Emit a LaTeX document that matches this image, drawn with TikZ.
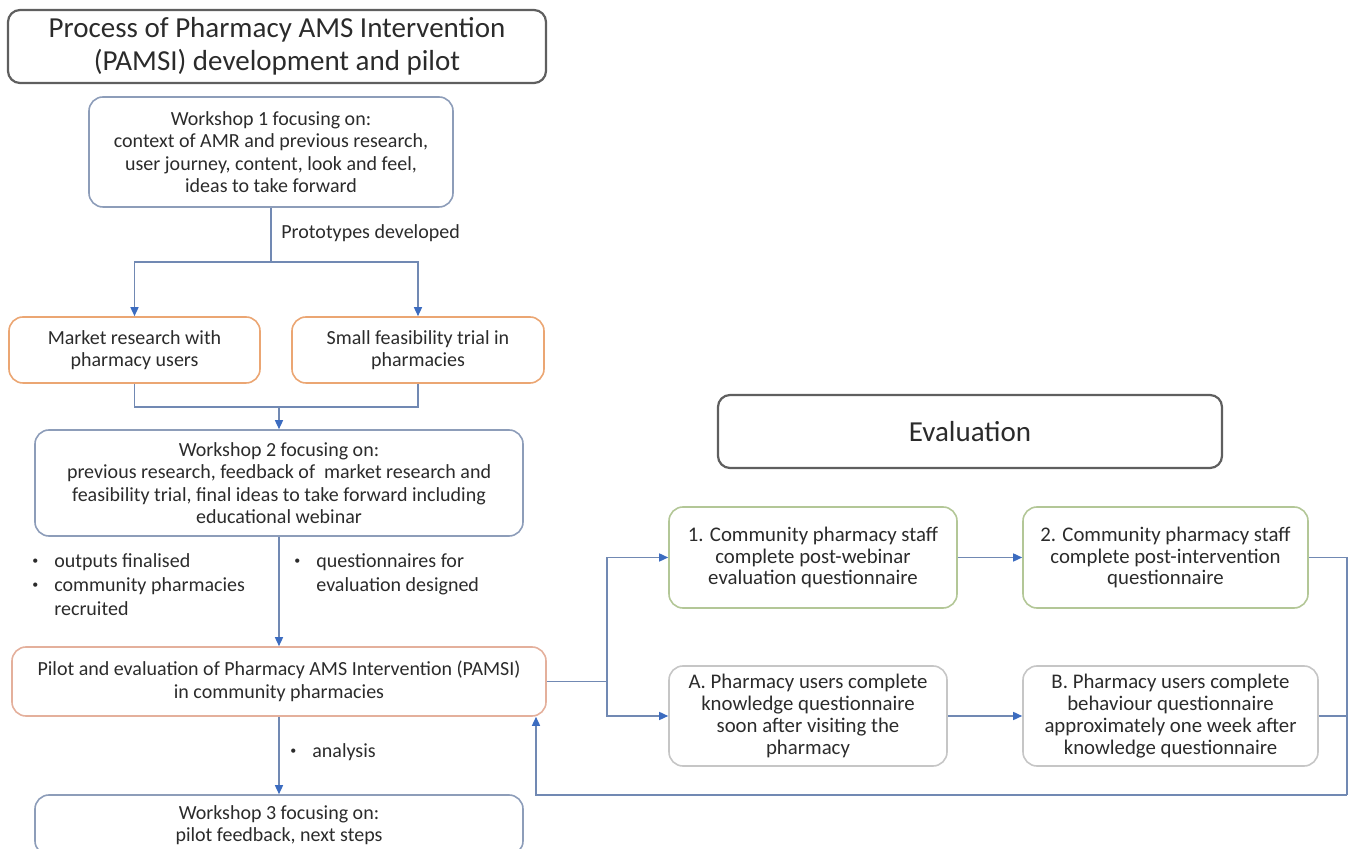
\documentclass[tikz,border=0pt]{standalone}
\usepackage{fontspec}
\setmainfont{Carlito}
\usepackage{tikz}
\usetikzlibrary{arrows.meta}

\definecolor{framegray}{HTML}{5F5F5F}
\definecolor{wsblue}{HTML}{8D9DB9}
\definecolor{trialorange}{HTML}{EBA673}
\definecolor{pilotred}{HTML}{E4B09C}
\definecolor{staffgreen}{HTML}{B3C797}
\definecolor{usergray}{HTML}{C6C6C6}
\definecolor{linkblue}{HTML}{7189B3}
\definecolor{tipblue}{HTML}{3C6CC0}
\definecolor{textgray}{HTML}{2B2B2B}

\newcommand{\smalldot}{\raisebox{1.6pt}{\fontsize{6}{6}\selectfont\textbullet}}

\begin{document}
\begin{tikzpicture}[x=0.5pt, y=-0.5pt, text=textgray]
    \tikzstyle{headbox} = [rectangle, draw=framegray, line width=1.1pt, rounded corners=6pt, align=center, inner sep=0pt, font=\fontsize{14.5}{16.5}\selectfont]
    \tikzstyle{workshop} = [rectangle, draw=wsblue, line width=0.8pt, rounded corners=7pt, align=center, inner sep=0pt, font=\fontsize{10}{11.25}\selectfont]
    \tikzstyle{trialbox} = [workshop, draw=trialorange]
    \tikzstyle{pilotbox} = [workshop, draw=pilotred]
    \tikzstyle{staffbox} = [workshop, draw=staffgreen, font=\fontsize{10.4}{10.9}\selectfont]
    \tikzstyle{userbox} = [staffbox, draw=usergray]
    \tikzstyle{link} = [draw=linkblue, line width=0.75pt]
    \tikzstyle{flow} = [link, -{Triangle[length=4.5pt, width=4pt, color=tipblue]}]
    \tikzstyle{note} = [anchor=west, align=left, inner sep=0pt, font=\fontsize{10}{12}\selectfont]

    \useasboundingbox (0,0) rectangle (1350,849);
    \clip (0,0) rectangle (1350,849);

    % Headings
    \node[headbox, minimum width=269pt, minimum height=36.5pt] (title) at (277,46.5) {Process of Pharmacy AMS Intervention\\(PAMSI) development and pilot};
    \node[headbox, minimum width=252pt, minimum height=36.5pt] (evaltitle) at (970,431.5) {Evaluation};

    % Development steps
    \node[workshop, minimum width=182pt, minimum height=55pt] (ws1) at (271,152) {Workshop 1 focusing on:\\context of AMR and previous research,\\user journey, content, look and feel,\\ideas to take forward};
    \node[trialbox, minimum width=125.5pt, minimum height=33pt] (market) at (134.5,350) {Market research with\\pharmacy users};
    \node[trialbox, minimum width=126pt, minimum height=33pt] (trial) at (418,350) {Small feasibility trial in\\pharmacies};
    \node[workshop, minimum width=244pt, minimum height=53pt] (ws2) at (279,483) {Workshop 2 focusing on:\\previous research, feedback of~ market research and\\feasibility trial, final ideas to take forward including\\educational webinar};
    \node[pilotbox, minimum width=267pt, minimum height=34.5pt] (pilot) at (279,681.5) {Pilot and evaluation of Pharmacy AMS Intervention (PAMSI)\\in community pharmacies};
    \node[workshop, minimum width=244pt, minimum height=30pt] (ws3) at (279,825) {Workshop 3 focusing on:\\pilot feedback, next steps};

    % Evaluation steps
    \node[staffbox, minimum width=144pt, minimum height=50.5pt] (staff1) at (813,557.5) {1. Community pharmacy staff\\complete post-webinar\\evaluation questionnaire};
    \node[staffbox, minimum width=142.5pt, minimum height=50.5pt] (staff2) at (1165.5,557.5) {2. Community pharmacy staff\\complete post-intervention\\questionnaire};
    \node[userbox, minimum width=139pt, minimum height=50pt] (userA) at (808,716) {A. Pharmacy users complete\\knowledge questionnaire\\soon after visiting the\\pharmacy};
    \node[userbox, minimum width=147.5pt, minimum height=50pt] (userB) at (1170.5,716) {B. Pharmacy users complete\\behaviour questionnaire\\approximately one week after\\knowledge questionnaire};

    % Labels
    \node[note] (proto) at (281,233) {Prototypes developed};
    \node[note] (outputs) at (32,587) {\begin{tabular}{@{}l@{\hspace{8pt}}l@{}}\smalldot & outputs finalised\\ \smalldot & community pharmacies\\ & recruited\end{tabular}};
    \node[note] (quest) at (294,574.5) {\begin{tabular}{@{}l@{\hspace{8pt}}l@{}}\smalldot & questionnaires for\\ & evaluation designed\end{tabular}};
    \node[note] (analysis) at (290,752) {\smalldot\hspace{8pt}analysis};

    % Connectors
    \coordinate (fork) at (271,262);
    \coordinate (merge) at (279,407);
    \coordinate (split) at (607,681.5);
    \coordinate (loop) at (1347,795);
    \coordinate (back) at (536,795);

    \draw[link] (ws1) -- (fork);
    \draw[flow] (fork) -| (market);
    \draw[flow] (fork) -| (trial);
    \draw[link] (market) |- (merge);
    \draw[link] (trial) |- (merge);
    \draw[flow] (merge) -- (ws2);
    \draw[flow] (ws2) -- (pilot);
    \draw[flow] (pilot) -- (ws3);

    \draw[link] (pilot) -- (split);
    \draw[flow] (split) |- (staff1);
    \draw[flow] (split) |- (userA);
    \draw[flow] (staff1) -- (staff2);
    \draw[flow] (userA) -- (userB);
    \draw[link] (staff2) -| (loop);
    \draw[link] (userB) -- (userB -| loop);
    \draw[flow] (loop) -- (back) -- (back |- pilot.south);

\end{tikzpicture}
\end{document}
